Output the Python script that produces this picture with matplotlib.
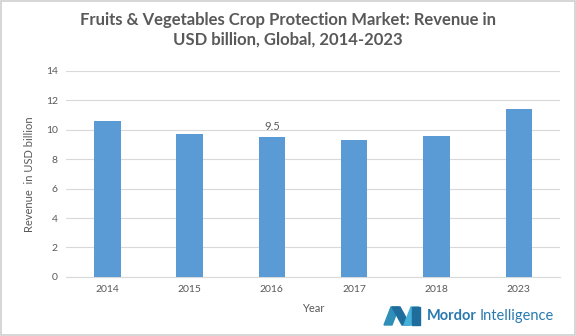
import matplotlib
matplotlib.use("Agg")
import matplotlib.pyplot as plt
from matplotlib.patches import Polygon, Rectangle

years = ["2014", "2015", "2016", "2017", "2018", "2023"]
revenue = [10.6, 9.7, 9.5, 9.3, 9.6, 11.4]
yticks = [0, 2, 4, 6, 8, 10, 12, 14]

plt.rcParams['font.family'] = ['Lato', 'DejaVu Sans']
grey = '#595959'

fig = plt.figure(figsize=(5.76, 3.36), dpi=100)
ax = fig.add_axes([0.115, 0.176, 0.857, 0.613])

x = range(len(years))
ax.bar(x, revenue, width=0.32, color='#5b9bd5', zorder=3)
ax.set_xticks(list(x))
ax.set_xticklabels(years)
ax.set_yticks(yticks)
ax.set_ylim(0, 14)
ax.set_xlim(-0.5, len(years) - 0.5)
ax.grid(axis='y', color='#d9d9d9', linewidth=0.8, zorder=0)
for s in ['top', 'right', 'left']:
    ax.spines[s].set_visible(False)
ax.spines['bottom'].set_color('#d9d9d9')
ax.tick_params(length=0, colors=grey, labelsize=7.5, pad=6)
ax.set_xlabel('Year', color=grey, fontsize=8, labelpad=6)
ax.set_ylabel('Revenue  in USD billion', color=grey, fontsize=8, labelpad=8)

# label on 2016 bar
ax.text(2, revenue[2] + 0.35, '9.5', ha='center', va='bottom', color=grey, fontsize=8)

fig.suptitle('Fruits & Vegetables Crop Protection Market: Revenue in\nUSD billion, Global, 2014-2023',
             x=0.5, y=0.965, color=grey, fontsize=12, fontweight='bold', linespacing=1.3)

# border
fig.patches.append(Rectangle((0.002, 0.003), 0.996, 0.994, transform=fig.transFigure,
                             fill=False, edgecolor='#d0d0d0', linewidth=1.2))

# logo
def fx(px):
    return px / 576
def fy(py):
    return 1 - py / 336
logo_pts = [
    ([(384, 325), (391, 307), (399, 307), (392, 325)], '#2f8fb8'),
    ([(392, 307), (400, 307), (410, 325), (402, 325)], '#1f6d9c'),
    ([(404, 325), (411, 307), (419, 307), (412, 325)], '#46b1d8'),
    ([(412, 307), (420, 307), (420, 325), (412, 325)], '#1f6d9c'),
]
for pts, c in logo_pts:
    fig.patches.append(Polygon([(fx(a), fy(b)) for a, b in pts], closed=True,
                               transform=fig.transFigure, color=c))
t1 = fig.text(fx(427), fy(316), 'Mordor', color='#2a7ab0', fontsize=10.5, fontweight='bold', va='center')
r = fig.canvas.get_renderer()
bb = t1.get_window_extent(renderer=r)
fig.text(bb.x1 / fig.bbox.width + 0.004, fy(316), 'Intelligence', color='#2a7ab0', fontsize=10.5, va='center')

fig.savefig('out.png', dpi=100)
